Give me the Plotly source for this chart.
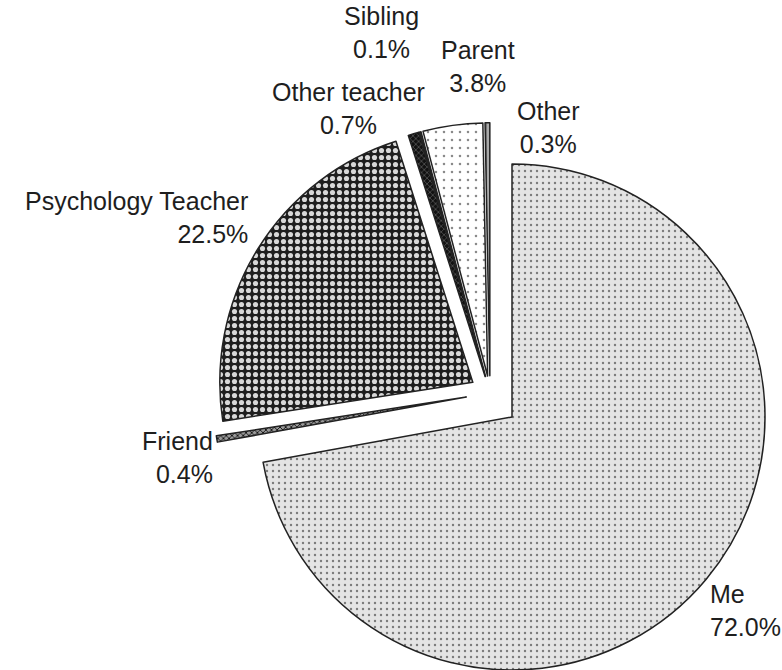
import plotly.graph_objects as go

# ---- data ----
categories = ["Me", "Friend", "Psychology Teacher", "Other teacher", "Sibling", "Parent", "Other"]
percents = [72.0, 0.4, 22.5, 0.7, 0.1, 3.8, 0.3]

# ---- styles (kept separate from data) ----
pulls = [0.0, 0.095, 0.08, 0.068, 0.068, 0.068, 0.068]
fills = ["#e4e4e4", "#555555", "#2a2a2a", "#1a1a1a", "#777777", "#ffffff", "#999999"]
pat_shapes = [".", "x", ".", "x", "", ".", "|"]
pat_fg = ["#7a7a7a", "#111111", "#d8d8d8", "#666666", "#777777", "#8a8a8a", "#555555"]
pat_bg = ["#e4e4e4", "#9a9a9a", "#1e1e1e", "#111111", "#777777", "#ffffff", "#aaaaaa"]
pat_size = [6, 4, 7, 4, 4, 8, 4]
pat_sol = [0.12, 0.4, 0.42, 0.3, 0.3, 0.08, 0.3]

# label block anchors: (x, y of block centre in px, alignment)
label_pos = [(709, 610, "left"), (214, 457, "right"), (249, 218, "right"),
             (348, 109, "center"), (381, 32, "center"), (478, 66, "center"),
             (548, 127, "center")]

W, H = 782, 670
R = 253                      # pie radius in px
CENTER = (490, 393)          # centre of the exploded group
ME_APEX = (512, 417)         # where the (separately exploded) Me slice has its apex

def domain_for(cx, cy, half):
    return dict(x=[(cx - half) / W, (cx + half) / W],
                y=[max(0.0, 1 - (cy + half) / H), 1 - (cy - half) / H])

def trace(visible_mask, pull_list, dom):
    cols = [c if v else "rgba(0,0,0,0)" for c, v in zip(fills, visible_mask)]
    lw = [1.5 if v else 0 for v in visible_mask]
    shp = [s if v else "" for s, v in zip(pat_shapes, visible_mask)]
    fg = [c if v else "rgba(0,0,0,0)" for c, v in zip(pat_fg, visible_mask)]
    bg = [c if v else "rgba(0,0,0,0)" for c, v in zip(pat_bg, visible_mask)]
    return go.Pie(
        labels=categories, values=percents, sort=False,
        direction="clockwise", rotation=0, pull=pull_list,
        textinfo="none", hoverinfo="skip", showlegend=False,
        marker=dict(colors=cols, line=dict(color="#222222", width=lw),
                    pattern=dict(shape=shp, fgcolor=fg, bgcolor=bg,
                                 size=pat_size, solidity=pat_sol, fillmode="replace")),
        domain=dom,
    )

is_me = [c == "Me" for c in categories]
not_me = [not m for m in is_me]
max_pull = max(pulls)

fig = go.Figure()
fig.add_trace(trace(not_me, pulls, domain_for(CENTER[0], CENTER[1], R * (1 + max_pull))))
fig.add_trace(trace(is_me, [0] * len(categories), domain_for(ME_APEX[0], ME_APEX[1], R)))

font = dict(family="Liberation Sans, Arial, sans-serif", size=25, color="#1e1e1e")
for cat, val, (px, py, al) in zip(categories, percents, label_pos):
    fig.add_annotation(
        x=px / W, y=1 - py / H, xref="paper", yref="paper",
        text=f"{cat}<br>{val:.1f}%", showarrow=False,
        xanchor=al, yanchor="middle", align=al,
        font=font, borderpad=0,
    )

fig.update_layout(
    width=W, height=H,
    margin=dict(l=0, r=0, t=0, b=0),
    paper_bgcolor="white", plot_bgcolor="white",
)

fig.write_html("out.html",
               config={"displayModeBar": False},
               post_script="document.body.style.margin='0';document.body.style.overflow='hidden';")
